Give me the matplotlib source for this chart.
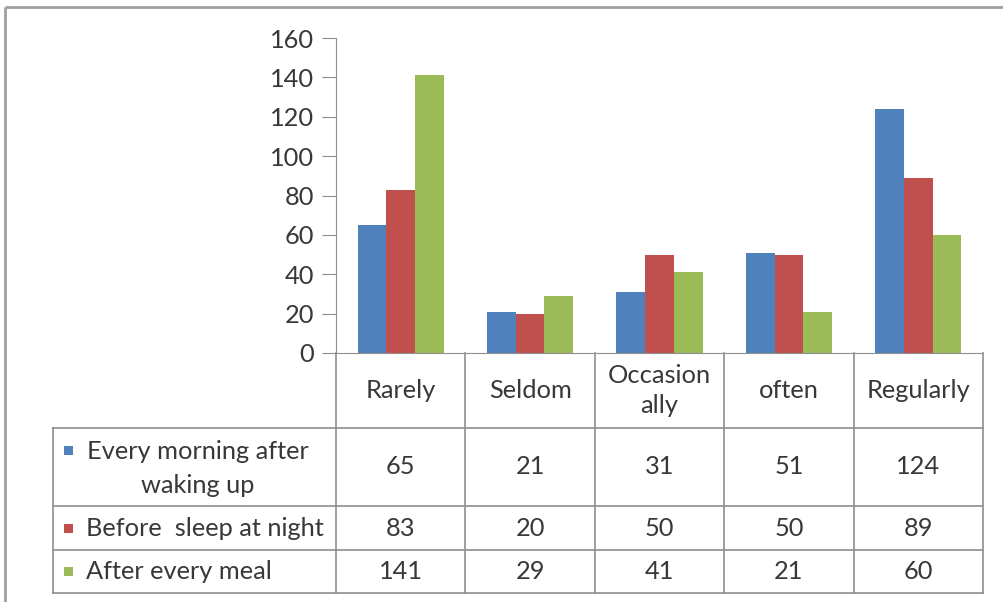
import matplotlib
matplotlib.use("Agg")
import matplotlib.pyplot as plt
from matplotlib.patches import Rectangle

plt.rcParams['font.family'] = ['Lato', 'DejaVu Sans']

categories = ["Rarely", "Seldom", "Occasion\nally", "often", "Regularly"]
series_names = ["Every morning after\nwaking up", "Before  sleep at night", "After every meal"]
morning = [65, 21, 31, 51, 124]
night = [83, 20, 50, 50, 89]
meal = [141, 29, 41, 21, 60]
y_ticks = [0, 20, 40, 60, 80, 100, 120, 140, 160]

series = [morning, night, meal]
colors = ["#4F81BD", "#C0504D", "#9BBB59"]
text_color = "#383838"
line_color = "#8f8f8f"
fs = 18.3

W, H = 1004, 602
fig = plt.figure(figsize=(W / 100, H / 100), dpi=100)

# pixel layout of the plot area and table
x0, x1 = 336, 983          # plot / table columns
y_top, y_axis = 38, 353    # value 160 and value 0
y_head = 428               # bottom of category header row
row_bounds = [428, 506, 550, 593]
label_left = 53

ax = fig.add_axes([x0 / W, 1 - y_axis / H, (x1 - x0) / W, (y_axis - y_top) / H])
n = len(categories)
bw = 1 / 4.5
for i, (vals, c) in enumerate(zip(series, colors)):
    xs = [k + (i - 1) * bw for k in range(n)]
    ax.bar(xs, vals, width=bw, color=c, linewidth=0)
ax.set_xlim(-0.5, n - 0.5)
ax.set_ylim(0, 160)
ax.set_yticks(y_ticks)
ax.set_xticks([])
for s in ["top", "right"]:
    ax.spines[s].set_visible(False)
ax.spines["left"].set_color(line_color)
ax.spines["bottom"].set_color(line_color)
ax.tick_params(axis="y", length=10, color=line_color, labelsize=fs,
               labelcolor=text_color, pad=6)
ax.set_facecolor("none")

# overlay in pixel coordinates for the data table and frame
ov = fig.add_axes([0, 0, 1, 1], zorder=-1)
ov.set_xlim(0, W)
ov.set_ylim(H, 0)
ov.axis("off")

ov.plot([5, 5], [7, 620], color="#a0a0a0", lw=2, solid_capstyle="butt")
ov.plot([5, 1020], [7, 7], color="#a0a0a0", lw=2, solid_capstyle="butt")

col_w = (x1 - x0) / n
col_edges = [x0 + k * col_w for k in range(n + 1)]
lk = dict(color=line_color, lw=1.2)
for xe in col_edges:
    ov.plot([xe, xe], [y_axis, row_bounds[-1]], **lk)
ov.plot([label_left, label_left], [row_bounds[0], row_bounds[-1]], **lk)
for yb in row_bounds:
    ov.plot([label_left, x1], [yb, yb], **lk)

head_mid = (y_axis + y_head) / 2
for k, cat in enumerate(categories):
    cx = col_edges[k] + col_w / 2
    ov.text(cx, head_mid, cat, ha="center", va="center", fontsize=fs,
            color=text_color, multialignment="center", linespacing=1.4)

for r, (name, vals, c) in enumerate(zip(series_names, series, colors)):
    ym = (row_bounds[r] + row_bounds[r + 1]) / 2
    for k, v in enumerate(vals):
        cx = col_edges[k] + col_w / 2
        ov.text(cx, ym, str(v), ha="center", va="center", fontsize=fs,
                color=text_color)
    if "\n" in name:
        ym_txt = ym + 1.5
        first_y = ym_txt - 18.5
        ov.text(198, ym_txt, name, ha="center", va="center", fontsize=fs,
                color=text_color, multialignment="center", linespacing=1.6)
    else:
        first_y = ym
        ov.text(86, ym, name, ha="left", va="center", fontsize=fs,
                color=text_color)
    ov.add_patch(Rectangle((64, first_y - 4.5), 9, 9, color=c, lw=0))

fig.savefig("out.png", dpi=100, facecolor="white")
